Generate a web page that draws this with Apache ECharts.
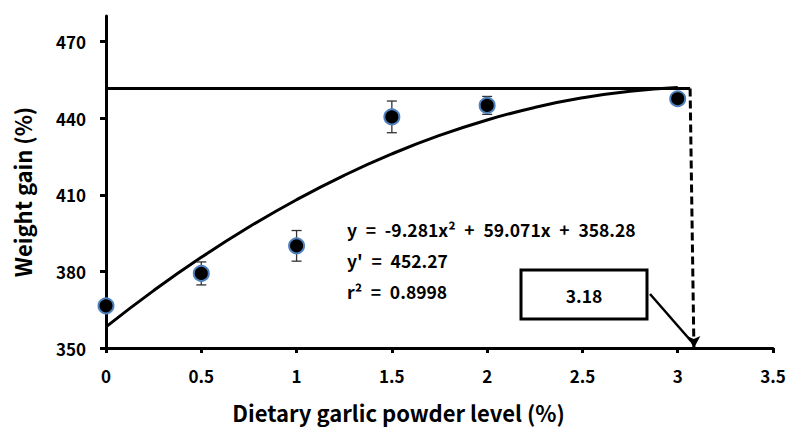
<!DOCTYPE html>
<html>
<head>
<meta charset="utf-8">
<script src="https://cdn.jsdelivr.net/npm/echarts@6/dist/echarts.min.js"></script>
<style>
  html, body { margin: 0; padding: 0; background: #fff; }
  #chart { width: 787px; height: 427px; }
</style>
</head>
<body>
<div id="chart"></div>
<script>
// garlic powder level (%) vs weight gain (%)
var levels = [0, 0.5, 1, 1.5, 2, 3];
var gainMean = [366.5, 379.2, 390, 440.5, 445, 447.6];
var gainErr = [2, 4.5, 6, 6.2, 3.5, 1.5];

// fitted curve y = -9.281x^2 + 59.071x + 358.28, read at steps of 0.25
var fitX = [0, 0.25, 0.5, 0.75, 1, 1.25, 1.5, 1.75, 2, 2.25, 2.5, 2.75, 3];
var fitY = [358.28, 372.47, 385.49, 397.36, 408.07, 417.62, 426.0, 433.23, 439.3, 444.2, 447.95, 450.54, 451.96];

// plateau line and breakpoint
var plateau = 451.6;
var breakTop = [3.065, 451.6];
var breakBottom = [3.085, 350];

var yTicks = [350, 380, 410, 440, 470];

var FONT = '"Noto Sans CJK KR", "Noto Sans", sans-serif';
var SP = '\u2002';

var chart = echarts.init(document.getElementById('chart'), null, { renderer: 'svg' });

var meanData = levels.map(function (x, i) { return [x, gainMean[i]]; });
var errData = levels.map(function (x, i) { return [x, gainMean[i] - gainErr[i], gainMean[i] + gainErr[i]]; });
var fitData = fitX.map(function (x, i) { return [x, fitY[i]]; });

var option = {
  animation: false,
  grid: { left: 106, right: 14, top: 16, bottom: 79, containLabel: false, outerBoundsMode: 'none' },
  xAxis: {
    type: 'value',
    min: 0,
    max: 3.5,
    interval: 0.5,
    name: 'Dietary garlic powder level (%)',
    nameLocation: 'middle',
    nameGap: 53,
    nameTextStyle: { color: '#000', fontFamily: FONT, fontWeight: 'bold', fontSize: 22, padding: [0, 82, 0, 0] },
    axisLine: { lineStyle: { color: '#000', width: 3 } },
    axisTick: { show: true, inside: false, length: 5, lineStyle: { color: '#000', width: 3 } },
    axisLabel: { color: '#000', fontFamily: FONT, fontWeight: 'bold', fontSize: 17, margin: 19 },
    splitLine: { show: false }
  },
  yAxis: {
    type: 'value',
    min: 350,
    max: 480,
    interval: 30,
    name: 'Weight gain (%)',
    nameLocation: 'middle',
    nameGap: 73,
    nameTextStyle: { color: '#000', fontFamily: FONT, fontWeight: 'bold', fontSize: 22, padding: [0, 20, 0, 0] },
    axisLine: { show: true, lineStyle: { color: '#000', width: 3 } },
    axisTick: { show: true, length: 6, customValues: yTicks, lineStyle: { color: '#000', width: 3 } },
    axisLabel: { color: '#000', fontFamily: FONT, fontWeight: 'bold', fontSize: 17, margin: 20, customValues: yTicks },
    splitLine: { show: false }
  },
  series: [
    {
      name: 'plateau',
      type: 'line',
      data: [[0, plateau], [breakTop[0], plateau]],
      symbol: 'none',
      lineStyle: { color: '#000', width: 3 },
      z: 2,
      markLine: {
        silent: true,
        symbol: ['none', 'arrow'],
        symbolSize: [10, 12],
        label: { show: false },
        lineStyle: { color: '#000', width: 3, type: [8, 4] },
        data: [[{ coord: breakTop }, { coord: breakBottom }]]
      }
    },
    {
      name: 'fit',
      type: 'line',
      data: fitData,
      smooth: true,
      symbol: 'none',
      lineStyle: { color: '#000', width: 3 },
      z: 3
    },
    {
      name: 'error',
      type: 'custom',
      data: errData,
      z: 4,
      renderItem: function (params, api) {
        var x = api.value(0);
        var lo = api.coord([x, api.value(1)]);
        var hi = api.coord([x, api.value(2)]);
        var cap = 5;
        var style = { stroke: '#333', lineWidth: 1.3 };
        return {
          type: 'group',
          children: [
            { type: 'line', shape: { x1: lo[0], y1: lo[1], x2: hi[0], y2: hi[1] }, style: style },
            { type: 'line', shape: { x1: lo[0] - cap, y1: lo[1], x2: lo[0] + cap, y2: lo[1] }, style: style },
            { type: 'line', shape: { x1: hi[0] - cap, y1: hi[1], x2: hi[0] + cap, y2: hi[1] }, style: style }
          ]
        };
      }
    },
    {
      name: 'mean',
      type: 'scatter',
      data: meanData,
      symbol: 'circle',
      symbolSize: 15,
      itemStyle: { color: '#000', borderColor: '#4f81bd', borderWidth: 2, opacity: 1 },
      z: 5
    }
  ],
  graphic: [
    {
      type: 'text',
      x: 347,
      y: 229,
      style: { text: 'y' + SP + '=' + SP + '-9.281x\u00b2' + SP + '+' + SP + '59.071x' + SP + '+' + SP + '358.28', fill: '#000', font: 'bold 17.5px ' + FONT, verticalAlign: 'middle' }
    },
    {
      type: 'text',
      x: 347,
      y: 260,
      style: { text: "y'" + SP + '=' + SP + '452.27', fill: '#000', font: 'bold 17.5px ' + FONT, verticalAlign: 'middle' }
    },
    {
      type: 'text',
      x: 347,
      y: 291,
      style: { text: 'r\u00b2' + SP + '=' + SP + '0.8998', fill: '#000', font: 'bold 17.5px ' + FONT, verticalAlign: 'middle' }
    },
    {
      type: 'rect',
      shape: { x: 521, y: 270, width: 126, height: 49 },
      style: { fill: '#fff', stroke: '#000', lineWidth: 3 }
    },
    {
      type: 'text',
      x: 584,
      y: 295,
      style: { text: '3.18', fill: '#000', font: 'bold 17.5px ' + FONT, align: 'center', verticalAlign: 'middle' }
    },
    {
      type: 'line',
      shape: { x1: 650, y1: 294, x2: 691, y2: 341 },
      style: { stroke: '#000', lineWidth: 2.5 }
    }
  ]
};

chart.setOption(option);
</script>
</body>
</html>
